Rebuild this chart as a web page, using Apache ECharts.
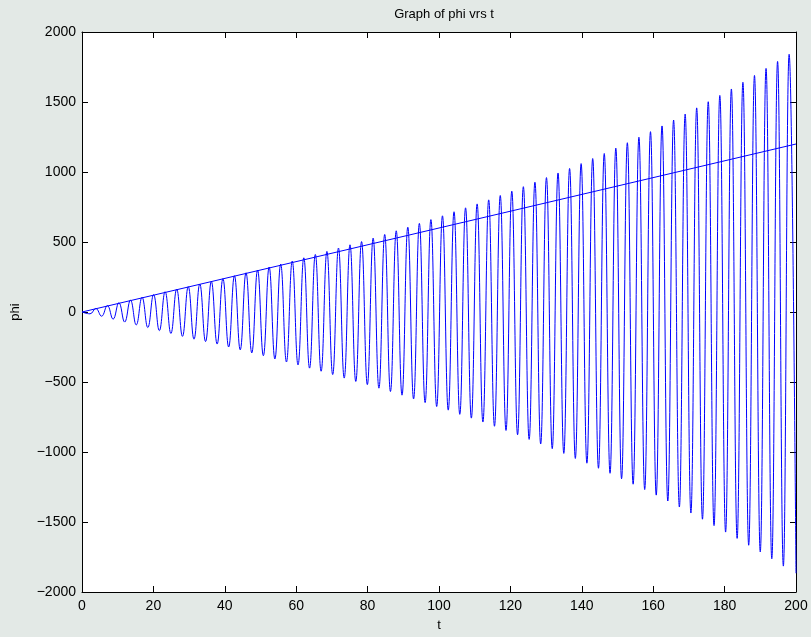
<!DOCTYPE html>
<html>
<head>
<meta charset="utf-8">
<script src="https://cdn.jsdelivr.net/npm/echarts@6/dist/echarts.min.js"></script>
<style>
html,body{margin:0;padding:0;background:#e3e9e6;}
#chart{width:811px;height:637px;}
</style>
</head>
<body>
<div id="chart"></div>
<script>
// Oscillation: start point, troughs and peaks (t, phi)
var startPoint = [0, 0];
var troughT = [2.24,5.48,8.71,11.95,15.19,18.43,21.66,24.90,28.14,31.37,34.61,37.85,41.08,44.32,47.56,50.80,54.03,57.27,60.51,63.74,66.98,70.22,73.45,76.69,79.93,83.17,86.40,89.64,92.88,96.11,99.35,102.59,105.82,109.06,112.30,115.54,118.77,122.01,125.25,128.48,131.72,134.96,138.19,141.43,144.67,147.91,151.14,154.38,157.62,160.85,164.09,167.33,170.56,173.80,177.04,180.28,183.51,186.75,189.99,193.22,196.46];
var troughV = [-13,-30,-51,-72,-92,-111,-133,-153,-174,-194,-211,-229,-250,-270,-292,-312,-335,-357,-378,-401,-423,-447,-472,-496,-519,-544,-568,-594,-621,-647,-675,-701,-731,-758,-786,-816,-846,-877,-910,-943,-976,-1010,-1046,-1080,-1116,-1152,-1191,-1230,-1268,-1308,-1350,-1393,-1436,-1480,-1526,-1572,-1617,-1666,-1714,-1763,-1815];
var peakT = [3.86,7.10,10.33,13.57,16.81,20.05,23.28,26.52,29.76,32.99,36.23,39.47,42.70,45.94,49.18,52.42,55.65,58.89,62.13,65.36,68.60,71.84,75.07,78.31,81.55,84.79,88.02,91.26,94.50,97.73,100.97,104.21,107.44,110.68,113.92,117.16,120.39,123.63,126.87,130.10,133.34,136.58,139.81,143.05,146.29,149.53,152.76,156.00,159.24,162.47,165.71,168.95,172.18,175.42,178.66,181.90,185.13,188.37,191.61,194.84,198.08];
var peakV = [25,46,66,85,105,124,145,163,181,200,218,238,259,280,300,321,342,364,387,411,433,457,480,503,528,554,580,606,633,660,687,716,744,772,801,832,863,895,927,960,993,1025,1060,1096,1132,1170,1209,1248,1288,1329,1371,1414,1458,1502,1547,1593,1641,1690,1740,1790,1841];
var endPoint = [200, -1866];
// Straight line
var lineT = [0, 200];
var lineV = [0, 1200];
// Axis ticks
var xTicks = {min: 0, max: 200, step: 20};
var yTicks = {min: -2000, max: 2000, step: 500};

var osc = [startPoint];
for (var k = 0; k < troughT.length; k++) {
  osc.push([troughT[k], troughV[k]]);
  osc.push([peakT[k], peakV[k]]);
}
osc.push(endPoint);
var lineData = lineT.map(function (t, i) { return [t, lineV[i]]; });

var font = "'Liberation Sans', Arial, Helvetica, sans-serif";
function fmt(v) { return String(v).replace('-', '\u2212'); }

var chart = echarts.init(document.getElementById('chart'), null, {renderer: 'canvas'});
var axisCommon = {
  axisLine: {show: true, onZero: false, lineStyle: {color: '#000', width: 1}},
  axisTick: {show: true, inside: true, length: 6, lineStyle: {color: '#000', width: 1}},
  splitLine: {show: false}
};
chart.setOption({
  backgroundColor: '#e3e9e6',
  animation: false,
  title: {
    text: 'Graph of phi vrs t',
    left: 439, top: 3, textAlign: 'center',
    textStyle: {fontFamily: font, fontSize: 13, fontWeight: 'normal', color: '#000'}
  },
  grid: {left: 82, right: 15, top: 32, bottom: 43, show: true, backgroundColor: '#fff', borderWidth: 0},
  xAxis: [
    Object.assign({
      type: 'value', position: 'bottom', min: xTicks.min, max: xTicks.max, interval: xTicks.step,
      name: 't', nameLocation: 'middle', nameGap: 27,
      nameTextStyle: {fontFamily: font, fontSize: 13, color: '#000'},
      axisLabel: {fontFamily: font, fontSize: 14, color: '#000', margin: 7, formatter: fmt}
    }, axisCommon),
    Object.assign({
      type: 'value', position: 'top', min: xTicks.min, max: xTicks.max, interval: xTicks.step,
      axisLabel: {show: false}
    }, axisCommon)
  ],
  yAxis: [
    Object.assign({
      type: 'value', position: 'left', min: yTicks.min, max: yTicks.max, interval: yTicks.step,
      name: 'phi', nameLocation: 'middle', nameGap: 60,
      nameTextStyle: {fontFamily: font, fontSize: 13, color: '#000'},
      axisLabel: {fontFamily: font, fontSize: 14, color: '#000', margin: 6, formatter: fmt}
    }, axisCommon),
    Object.assign({
      type: 'value', position: 'right', min: yTicks.min, max: yTicks.max, interval: yTicks.step,
      axisLabel: {show: false}
    }, axisCommon)
  ],
  series: [
    {type: 'line', data: osc, showSymbol: false, symbol: 'none', smooth: 0.45,
     lineStyle: {color: '#0000ff', width: 1}, clip: true, z: 3},
    {type: 'line', data: lineData, showSymbol: false, symbol: 'none',
     lineStyle: {color: '#0000ff', width: 1}, z: 3}
  ]
});
</script>
</body>
</html>
